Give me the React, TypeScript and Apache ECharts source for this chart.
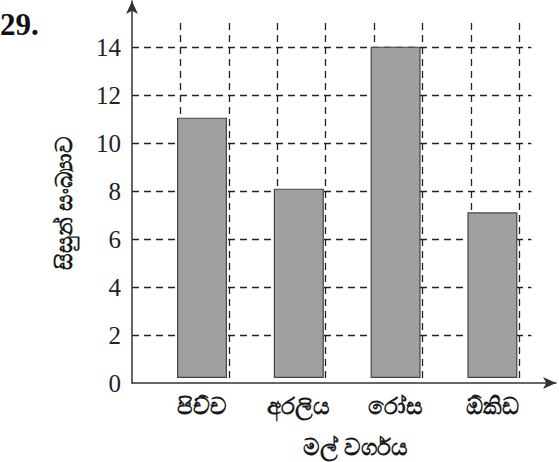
import React, { useEffect, useRef } from "react";
import * as echarts from "echarts";

const categories = ["පිච්ච", "අරලිය", "රෝස", "ඕකිඩ"];
const students = [11, 8, 14, 7];
const yAxisTitle = "සිසුන් සංඛ්‍යාව";
const xAxisTitle = "මල් වර්ගය";
const questionNo = "29.";

export default function App() {
  const ref = useRef<HTMLDivElement>(null);
  useEffect(() => {
    if (!ref.current) return;
    const chart = echarts.init(ref.current, undefined, { renderer: "svg" });
    const dash = { color: "#222", width: 1.3, type: [7, 5] as any };
    const sinhala = {
      fontWeight: "bold",
      color: "#1a1a1a",
      fontFamily: "'Noto Sans', sans-serif",
    };
    chart.setOption({
      animation: false,
      backgroundColor: "#fff",
      grid: [
        { left: 132, top: 23, width: 399.3, height: 360 },
        { left: 153.6, top: 23, width: 387.2, height: 360 },
        { left: 132, top: 1, right: 3, bottom: 79 },
      ],
      xAxis: [
        {
          gridIndex: 0,
          type: "value",
          min: 0,
          max: 8.25,
          interval: 1,
          axisLine: { show: false },
          axisTick: { show: false },
          axisLabel: { show: false },
          splitLine: { show: true, showMinLine: false, showMaxLine: false, lineStyle: dash },
        },
        {
          gridIndex: 1,
          type: "category",
          data: categories,
          axisLine: { show: false },
          axisTick: { show: false },
          axisLabel: { margin: 15, fontSize: 23, ...sinhala },
          splitLine: { show: false },
          name: xAxisTitle,
          nameLocation: "middle",
          nameGap: 56,
          nameTextStyle: { fontSize: 23, ...sinhala, padding: [0, 0, 0, 16] },
        },
        {
          gridIndex: 2,
          type: "value",
          min: 0,
          max: 1,
          axisLine: {
            show: true,
            symbol: ["none", "arrow"],
            symbolSize: [9, 13],
            lineStyle: { color: "#333", width: 1.5 },
          },
          axisTick: { show: false },
          axisLabel: { show: false },
          splitLine: { show: false },
        },
      ],
      yAxis: [
        {
          gridIndex: 0,
          type: "value",
          min: 0,
          max: 15,
          interval: 2,
          axisLine: { show: false },
          axisTick: { show: false },
          axisLabel: {
            showMaxLabel: false,
            margin: 11,
            fontSize: 25,
            color: "#222",
            fontFamily: "'Liberation Serif', serif",
          },
          splitLine: { show: true, showMinLine: false, showMaxLine: false, lineStyle: dash },
          name: yAxisTitle,
          nameLocation: "middle",
          nameRotate: 90,
          nameGap: 58,
          nameTextStyle: { fontSize: 23, ...sinhala },
        },
        {
          gridIndex: 1,
          type: "value",
          min: 0,
          max: 15,
          show: false,
        },
        {
          gridIndex: 2,
          type: "value",
          min: 0,
          max: 1,
          axisLine: {
            show: true,
            symbol: ["none", "arrow"],
            symbolSize: [9, 13],
            lineStyle: { color: "#333", width: 1.5 },
          },
          axisTick: { show: false },
          axisLabel: { show: false },
          splitLine: { show: false },
        },
      ],
      series: [
        {
          type: "bar",
          xAxisIndex: 1,
          yAxisIndex: 1,
          data: students,
          barWidth: 50,
          itemStyle: { color: "#a0a0a3", borderColor: "#444", borderWidth: 1.2 },
          z: 5,
        },
      ],
      graphic: [
        {
          type: "text",
          left: 0,
          top: 9,
          style: {
            text: questionNo,
            fontSize: 31,
            fontWeight: "bold",
            fontFamily: "'Liberation Serif', serif",
            fill: "#111",
          },
        },
      ],
    });
    return () => chart.dispose();
  }, []);
  return <div ref={ref} style={{ width: 559, height: 462, position: "absolute", left: 0, top: 0 }} />;
}
